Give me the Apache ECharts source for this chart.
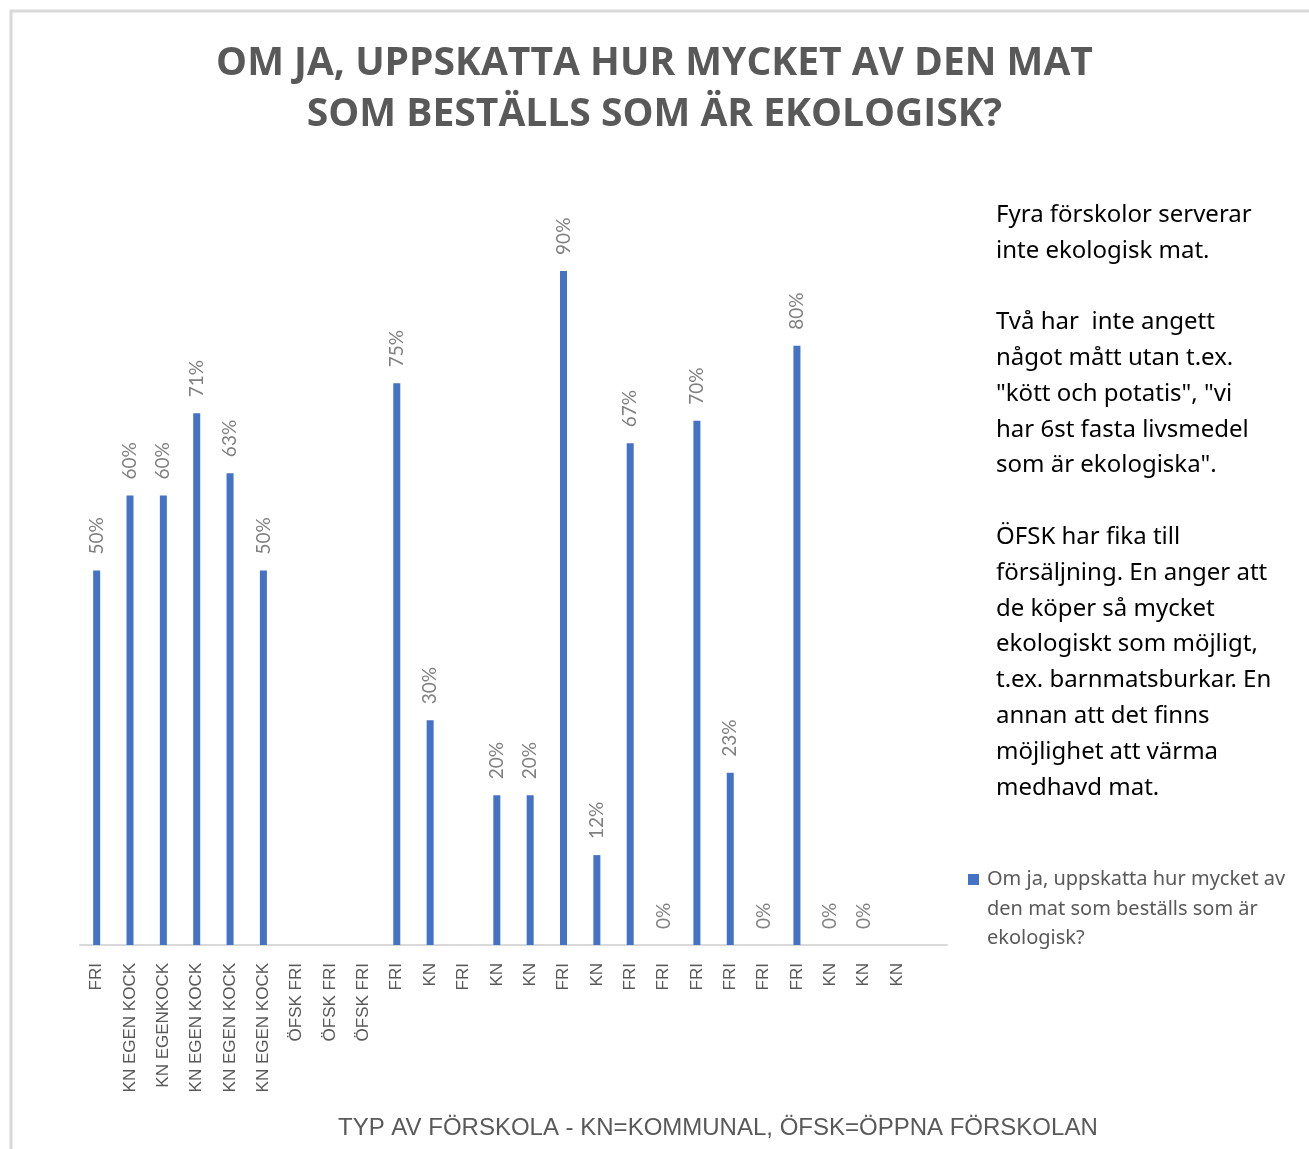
<!DOCTYPE html>
<html>
<head>
    <meta charset="UTF-8">
    <title>Om ja, uppskatta hur mycket av den mat som beställs som är ekologisk?</title>
    <script src="https://cdn.jsdelivr.net/npm/echarts/dist/echarts.min.js"></script>
    <style>
        html, body { margin: 0; padding: 0; background: #fff; }
    </style>
</head>
<body>
    <div id="chart" style="width: 1309px; height: 1149px;"></div>

    <script type="text/javascript">
        // kategorier (typ av förskola), sista är tom
        var categories = [
            'FRI', 'KN EGEN KOCK', 'KN EGENKOCK', 'KN EGEN KOCK', 'KN EGEN KOCK', 'KN EGEN KOCK',
            'ÖFSK FRI', 'ÖFSK FRI', 'ÖFSK FRI', 'FRI', 'KN', 'FRI', 'KN', 'KN', 'FRI', 'KN',
            'FRI', 'FRI', 'FRI', 'FRI', 'FRI', 'FRI', 'KN', 'KN', 'KN', ''
        ];

        // andel ekologiskt i procent, null = inget svar
        var ekoValues = [
            50, 60, 60, 71, 63, 50,
            null, null, null, 75, 30, null, 20, 20, 90, 12,
            67, 0, 70, 23, 0, 80, 0, 0, null, null
        ];

        var seriesName = 'Om ja, uppskatta hur mycket av den mat som beställs som är ekologisk?';

        var noteLines = [
            'Fyra förskolor serverar',
            'inte ekologisk mat.',
            '',
            'Två har  inte angett',
            'något mått utan t.ex.',
            '"kött och potatis", "vi',
            'har 6st fasta livsmedel',
            'som är ekologiska".',
            '',
            'ÖFSK har fika till',
            'försäljning. En anger att',
            'de köper så mycket',
            'ekologiskt som möjligt,',
            't.ex. barnmatsburkar. En',
            'annan att det finns',
            'möjlighet att värma',
            'medhavd mat.'
        ];

        var myChart = echarts.init(document.getElementById('chart'));

        var option = {
            backgroundColor: '#ffffff',
            animation: false,
            title: {
                text: 'OM JA, UPPSKATTA HUR MYCKET AV DEN MAT\nSOM BESTÄLLS SOM ÄR EKOLOGISK?',
                left: 'center',
                top: 33,
                textStyle: {
                    fontFamily: 'Open Sans',
                    fontWeight: 'bold',
                    fontSize: 39,
                    lineHeight: 51,
                    color: '#595959'
                }
            },
            grid: {
                left: 80,
                right: 362,
                top: 196,
                bottom: 204
            },
            xAxis: {
                type: 'category',
                data: categories,
                axisTick: { show: false },
                axisLine: { lineStyle: { color: '#d9d9d9', width: 2 } },
                axisLabel: {
                    interval: 0,
                    rotate: 90,
                    margin: 18,
                    fontFamily: 'Liberation Sans',
                    fontSize: 17,
                    color: '#595959'
                }
            },
            yAxis: {
                type: 'value',
                min: 0,
                max: 100,
                show: false,
                splitLine: { show: false }
            },
            series: [{
                name: seriesName,
                type: 'bar',
                data: ekoValues,
                barWidth: 7,
                itemStyle: { color: '#4472c4' },
                label: {
                    show: true,
                    position: 'top',
                    rotate: 90,
                    align: 'left',
                    verticalAlign: 'middle',
                    distance: 16,
                    fontFamily: 'Lato',
                    fontSize: 19,
                    color: '#808080',
                    formatter: function (p) {
                        return p.value == null ? '' : p.value + '%';
                    }
                }
            }],
            graphic: [
                {
                    type: 'rect',
                    shape: { x: 11, y: 11, width: 1320, height: 1160 },
                    style: { fill: 'none', stroke: '#d9d9d9', lineWidth: 3 },
                    silent: true
                },
                {
                    type: 'text',
                    left: 996,
                    top: 197,
                    style: {
                        text: noteLines.join('\n'),
                        font: '24px "Noto Sans"',
                        lineHeight: 35.8,
                        fill: '#000000'
                    }
                },
                {
                    type: 'rect',
                    shape: { x: 968, y: 874, width: 11, height: 11 },
                    style: { fill: '#4472c4' }
                },
                {
                    type: 'text',
                    left: 987,
                    top: 865,
                    style: {
                        text: 'Om ja, uppskatta hur mycket av\nden mat som beställs som är\nekologisk?',
                        font: '20px "Noto Sans"',
                        lineHeight: 29.5,
                        fill: '#595959'
                    }
                },
                {
                    type: 'text',
                    left: 338,
                    top: 1116,
                    style: {
                        text: 'TYP AV FÖRSKOLA - KN=KOMMUNAL, ÖFSK=ÖPPNA FÖRSKOLAN',
                        font: '24px "Liberation Sans"',
                        fill: '#595959'
                    }
                }
            ]
        };

        myChart.setOption(option);
    </script>
</body>
</html>
